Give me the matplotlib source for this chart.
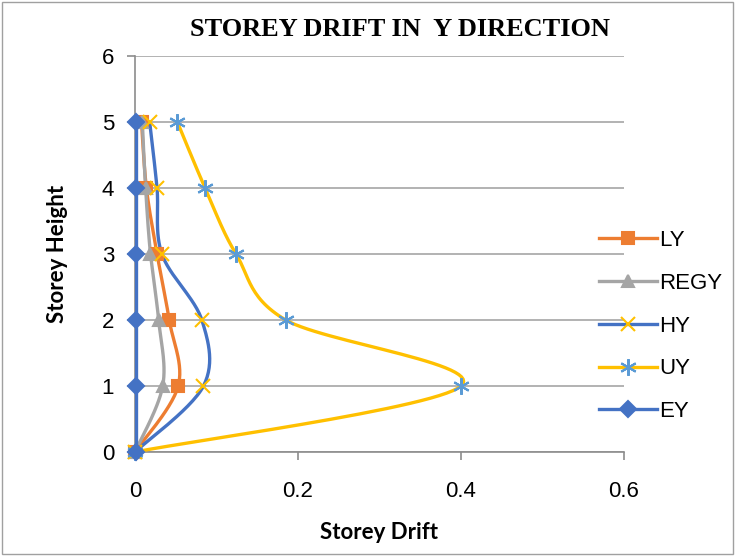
import numpy as np
import matplotlib
matplotlib.use("Agg")
import matplotlib.pyplot as plt
from matplotlib.lines import Line2D
from matplotlib.patches import Rectangle

# storey levels and drift per load case
storey = [0, 1, 2, 3, 4, 5]
ly = [0, 0.053, 0.042, 0.027, 0.014, 0.008]
regy = [0, 0.034, 0.029, 0.019, 0.013, 0.009]
hy = [0, 0.084, 0.082, 0.033, 0.027, 0.018]
uy = [0, 0.400, 0.185, 0.124, 0.086, 0.052]
ey = [0.001, 0.001, 0.001, 0.001, 0.001, 0.001]

names = ["LY", "REGY", "HY", "UY", "EY"]
x_ticks = [0, 0.2, 0.4, 0.6]
y_ticks = [0, 1, 2, 3, 4, 5, 6]

W, H = 735, 556
fig = plt.figure(figsize=(W / 100, H / 100), dpi=100)
ax = fig.add_axes([135 / W, 1 - 452 / H, 489 / W, 396 / H])

# scale used so the smoothing works in screen-like space
SX = 489 / 0.6
SY = 396 / 6.0


def smooth(xs, ys, n=30):
    # bezier smoothing like a spreadsheet "smoothed line"
    p = np.column_stack([np.array(xs) * SX, np.array(ys) * SY])
    out = []
    for i in range(len(p) - 1):
        p0 = p[i - 1] if i > 0 else p[i]
        p1 = p[i]
        p2 = p[i + 1]
        p3 = p[i + 2] if i + 2 < len(p) else p[i + 1]
        c1 = p1 + (p2 - p0) / 6
        c2 = p2 - (p3 - p1) / 6
        t = np.linspace(0, 1, n)[:, None]
        seg = ((1 - t) ** 3 * p1 + 3 * (1 - t) ** 2 * t * c1
               + 3 * (1 - t) * t ** 2 * c2 + t ** 3 * p2)
        out.append(seg if i == 0 else seg[1:])
    out = np.vstack(out)
    return out[:, 0] / SX, out[:, 1] / SY


orange = "#ED7D31"
grey = "#A5A5A5"
blue = "#4472C4"
gold = "#FFC000"
lblue = "#5B9BD5"

series = [
    (ly, orange, "s", orange, 9),
    (regy, grey, "^", grey, 9),
    (hy, blue, "x", gold, 10),
    (uy, gold, (6, 2, 0), lblue, 12),
    (ey, blue, "D", blue, 8),
]

handles = []
for (vals, lc, mk, mc, ms), name in zip(series, names):
    sx, sy = smooth(vals, storey)
    ax.plot(sx, sy, color=lc, lw=2.4, zorder=3, solid_capstyle="round")
    ax.plot(vals, storey, ls="none", marker=mk, color=mc, markersize=ms,
            markeredgewidth=1.5, zorder=4, clip_on=False)
    handles.append(Line2D([0], [0], color=lc, lw=2.4, marker=mk, markerfacecolor=mc,
                          markeredgecolor=mc, markersize=ms, markeredgewidth=1.5))

ax.set_xlim(0, 0.6)
ax.set_ylim(0, 6)
ax.set_xticks(x_ticks)
ax.set_xticklabels(["0", "0.2", "0.4", "0.6"])
ax.set_yticks(y_ticks)
ax.grid(axis="y", color="#A6A6A6", lw=1.2)
ax.set_axisbelow(True)
for s in ["top", "right"]:
    ax.spines[s].set_visible(False)
for s in ["left", "bottom"]:
    ax.spines[s].set_color("#8C8C8C")
    ax.spines[s].set_linewidth(1.2)
ax.tick_params(colors="#8C8C8C", length=6, width=1.2, labelcolor="black",
               labelsize=16)
for lab in ax.get_xticklabels() + ax.get_yticklabels():
    lab.set_family("Liberation Sans")
ax.tick_params(axis="y", pad=9)
ax.tick_params(axis="x", pad=15)

ax.set_xlabel("Storey Drift", fontsize=16, fontweight="bold",
              family="Lato", labelpad=14)
ax.set_ylabel("Storey Height", fontsize=16, fontweight="bold",
              family="Lato", labelpad=24)

fig.text(400 / W, 1 - 29 / H, "STOREY DRIFT IN  Y DIRECTION", ha="center",
         va="center", fontsize=19, fontweight="bold", family="Liberation Serif")

fig.legend(handles, names, loc="upper left", bbox_to_anchor=(579 / W, 1 - 210 / H),
           frameon=False, handlelength=2.6, labelspacing=0.98,
           handletextpad=0.1, prop={"family": "Liberation Sans", "size": 16})

fig.patches.append(Rectangle((2 / W, 2 / H), 1 - 4 / W, 1 - 4 / H,
                             transform=fig.transFigure, fill=False,
                             edgecolor="#A0A0A0", lw=1.0))

fig.savefig("out.png", dpi=100)
